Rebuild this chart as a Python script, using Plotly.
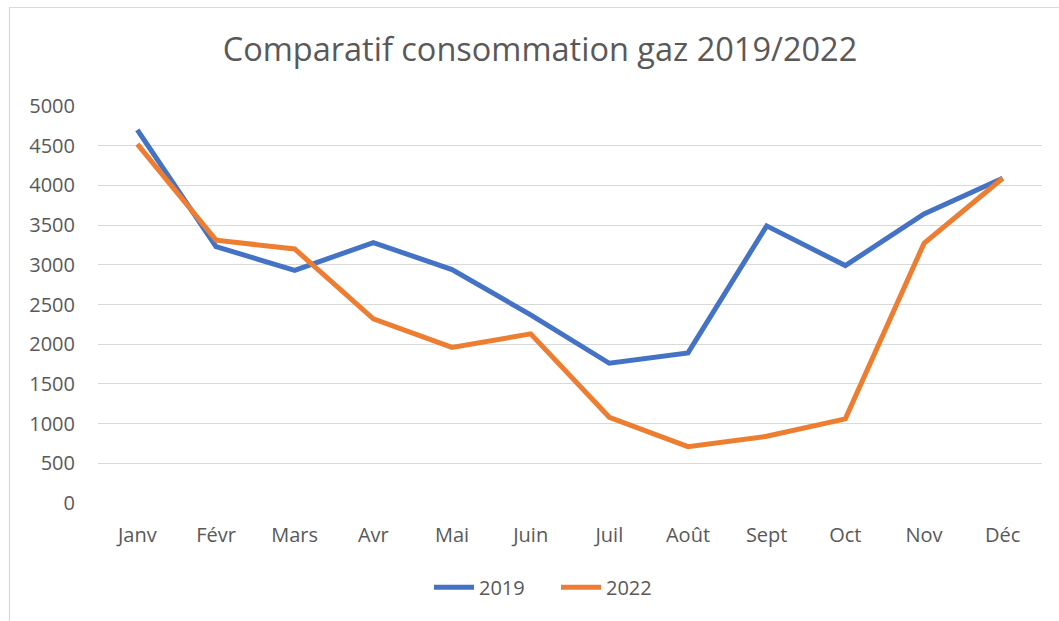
import plotly.graph_objects as go

months = ["Janv", "Févr", "Mars", "Avr", "Mai", "Juin", "Juil", "Août", "Sept", "Oct", "Nov", "Déc"]
conso_2019 = [4700, 3230, 2930, 3280, 2940, 2370, 1760, 1890, 3490, 2990, 3640, 4090]
conso_2022 = [4520, 3310, 3200, 2320, 1960, 2130, 1080, 710, 840, 1060, 3270, 4090]
y_ticks = [0, 500, 1000, 1500, 2000, 2500, 3000, 3500, 4000, 4500, 5000]

FONT = "Open Sans"
GREY = "#595959"

fig = go.Figure()
fig.add_trace(go.Scatter(x=months, y=conso_2019, name="2019", mode="lines",
                         line=dict(color="#4472C4", width=5)))
fig.add_trace(go.Scatter(x=months, y=conso_2022, name="2022", mode="lines",
                         line=dict(color="#ED7D31", width=5)))

fig.update_layout(
    width=1059, height=621,
    paper_bgcolor="white", plot_bgcolor="white",
    margin=dict(l=98, r=17, t=106, b=118, autoexpand=False),
    font=dict(family=FONT, color=GREY, size=20),
    title=dict(text="Comparatif consommation gaz 2019/2022", x=540 / 1059, xanchor="center",
               y=1 - 50 / 621, yanchor="middle", font=dict(size=32.5, color=GREY, family=FONT)),
    showlegend=True,
    legend=dict(orientation="h", x=(429 - 98) / 944, xanchor="left", y=-0.212, yanchor="middle",
                font=dict(size=20, color=GREY), itemwidth=40,
                entrywidth=72, entrywidthmode="pixels"),
    xaxis=dict(range=[-0.5, 11.5], showgrid=False, showline=False, ticks="", ticklabelstandoff=18,
               tickfont=dict(size=20, color=GREY)),
    yaxis=dict(range=[0, 5000], tickvals=y_ticks, showgrid=True, gridcolor="#D9D9D9",
               gridwidth=1.3, zeroline=False, showline=False, ticks="",
               ticklabelstandoff=22, tickfont=dict(size=20, color=GREY)),
    shapes=[dict(type="rect", xref="paper", yref="paper",
                 x0=(9.5 - 98) / 944, x1=(1080 - 98) / 944,
                 y0=(503 - 640) / 397, y1=(503 - 7.5) / 397,
                 line=dict(color="#D9D9D9", width=1.2), fillcolor="rgba(0,0,0,0)", layer="below")],
)

fig.write_html("out.html", config={"displayModeBar": False},
               post_script="document.body.style.margin='0';")
